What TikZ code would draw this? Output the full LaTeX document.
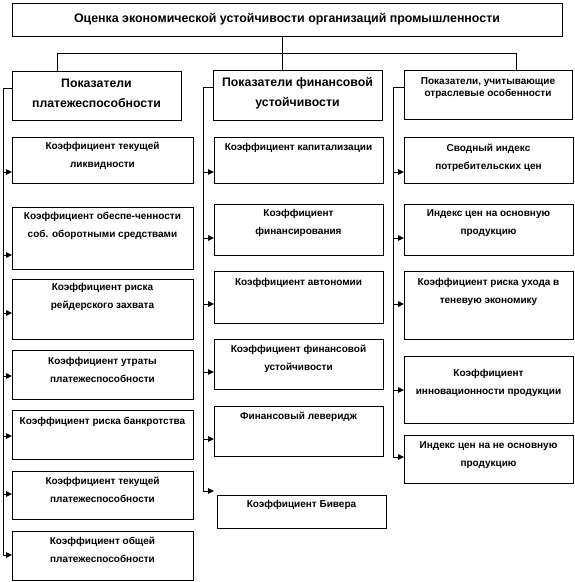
\documentclass[tikz,border=0pt]{standalone}
\usepackage{fontspec}
\setmainfont{Liberation Sans}
\usetikzlibrary{arrows.meta}
\tikzset{
  frame/.style={draw=black, line width=1pt, inner sep=0pt, outer sep=0pt,
    anchor=north west, font=\bfseries\fontsize{10}{18}\selectfont},
  link/.style={draw=black, line width=1pt},
  arr/.style={link, -{Triangle[length=6pt,width=5.5pt]}},
}
\newcommand\cellbox[7]{\node[frame] (#1) at (#2,#3)
  {\parbox[t][#5pt][t]{#4pt}{\centering\rule{0pt}{#6pt}#7}};}
\begin{document}
\begin{tikzpicture}[x=1pt,y=-1pt]
\useasboundingbox (0,0) rectangle (575,582);
% title
\node[frame, font=\bfseries\fontsize{12.4}{14}\selectfont, minimum width=550pt,
  minimum height=33pt] (title) at (12,3)
  {Оценка экономической устойчивости организаций промышленности};
% headers
\cellbox{lh}{12}{71}{169}{49}{16.5}{\fontsize{12.3}{20}\selectfont Показатели\\платежеспособности}
\cellbox{mh}{213}{70}{169}{50}{16.5}{\fontsize{12.3}{20}\selectfont Показатели финансовой\\устойчивости}
\cellbox{rh}{404}{70}{168}{49}{14.6}{\fontsize{10}{11.5}\selectfont Показатели, учитывающие\\отраслевые особенности}
% left column
\cellbox{b1}{12}{137}{181}{46}{12.6}{Коэффициент текущей\\ликвидности}
\cellbox{b2}{12}{207}{181}{62}{12.6}{Коэффициент обеспе-ченности\\соб. оборотными средствами}
\cellbox{b3}{12}{279}{181}{60}{11.6}{Коэффициент риска\\рейдерского захвата}
\cellbox{b4}{12}{350}{181}{49}{14.6}{Коэффициент утраты\\платежеспособности}
\cellbox{b5}{12}{410}{181}{49}{14.6}{Коэффициент риска банкротства}
\cellbox{b6}{12}{471}{181}{48}{13.6}{Коэффициент текущей\\платежеспособности}
\cellbox{b7}{12}{531}{181}{49}{13.6}{Коэффициент общей\\платежеспособности}
% middle column
\cellbox{m1}{214}{137}{169}{46}{13.6}{Коэффициент капитализации}
\cellbox{m2}{214}{204}{169}{51}{12.6}{Коэффициент\\финансирования}
\cellbox{m3}{214}{271}{169}{52}{14.6}{Коэффициент автономии}
\cellbox{m4}{214}{339}{169}{50}{13.6}{Коэффициент финансовой\\устойчивости}
\cellbox{m5}{214}{406}{169}{50}{13.6}{Финансовый леверидж}
\cellbox{m6}{217}{495}{169}{33}{12.6}{Коэффициент Бивера}
% right column
\cellbox{r1}{404}{137}{169}{46}{14.6}{Сводный индекс\\потребительских цен}
\cellbox{r2}{404}{204}{169}{51}{12.6}{Индекс цен на основную\\продукцию}
\cellbox{r3}{404}{271}{169}{68}{14.6}{Коэффициент риска ухода в\\теневую экономику}
\cellbox{r4}{404}{356}{169}{67}{20.6}{Коэффициент\\инновационности продукции}
\cellbox{r5}{404}{435}{169}{48}{13.6}{Индекс цен на не основную\\продукцию}
% top connectors
\coordinate (tj) at (282,53);
\coordinate (hl) at (57,53);
\coordinate (hr) at (516,53);
\draw[link] (title.south -| tj) -- (mh.north -| tj);
\draw[link] (hl |- lh.north) -- (hl) -- (hr) -- (hr |- rh.north);
% left spine
\coordinate (ls) at (3,88);
\coordinate (la1) at (3,172);
\coordinate (la2) at (3,255);
\coordinate (la3) at (3,313);
\coordinate (la4) at (3,376);
\coordinate (la5) at (3,436);
\coordinate (la6) at (3,494);
\coordinate (la7) at (3,555);
\draw[link] (ls -| lh.west) -- (ls) -- (la7);
\draw[arr] (la1) -- (la1 -| b1.west);
\draw[arr] (la2) -- (la2 -| b2.west);
\draw[arr] (la3) -- (la3 -| b3.west);
\draw[arr] (la4) -- (la4 -| b4.west);
\draw[arr] (la5) -- (la5 -| b5.west);
\draw[arr] (la6) -- (la6 -| b6.west);
\draw[arr] (la7) -- (la7 -| b7.west);
% middle spine
\coordinate (ms) at (203,87);
\coordinate (ma1) at (203,172);
\coordinate (ma2) at (203,238);
\coordinate (ma3) at (203,304);
\coordinate (ma4) at (203,372);
\coordinate (ma5) at (203,439);
\coordinate (ma6) at (203,491);
\coordinate (me) at (214,491);
\draw[link] (ms -| mh.west) -- (ms) -- (ma6);
\draw[arr] (ma1) -- (ma1 -| m1.west);
\draw[arr] (ma2) -- (ma2 -| m2.west);
\draw[arr] (ma3) -- (ma3 -| m3.west);
\draw[arr] (ma4) -- (ma4 -| m4.west);
\draw[arr] (ma5) -- (ma5 -| m5.west);
\draw[arr] (ma6) -- (me);
% right spine
\coordinate (rs) at (393,87);
\coordinate (ra1) at (393,172);
\coordinate (ra2) at (393,238);
\coordinate (ra3) at (393,304);
\coordinate (ra4) at (393,390);
\coordinate (ra5) at (393,457);
\draw[link] (rs -| rh.west) -- (rs) -- (ra5);
\draw[arr] (ra1) -- (ra1 -| r1.west);
\draw[arr] (ra2) -- (ra2 -| r2.west);
\draw[arr] (ra3) -- (ra3 -| r3.west);
\draw[arr] (ra4) -- (ra4 -| r4.west);
\draw[arr] (ra5) -- (ra5 -| r5.west);
\end{tikzpicture}
\end{document}
